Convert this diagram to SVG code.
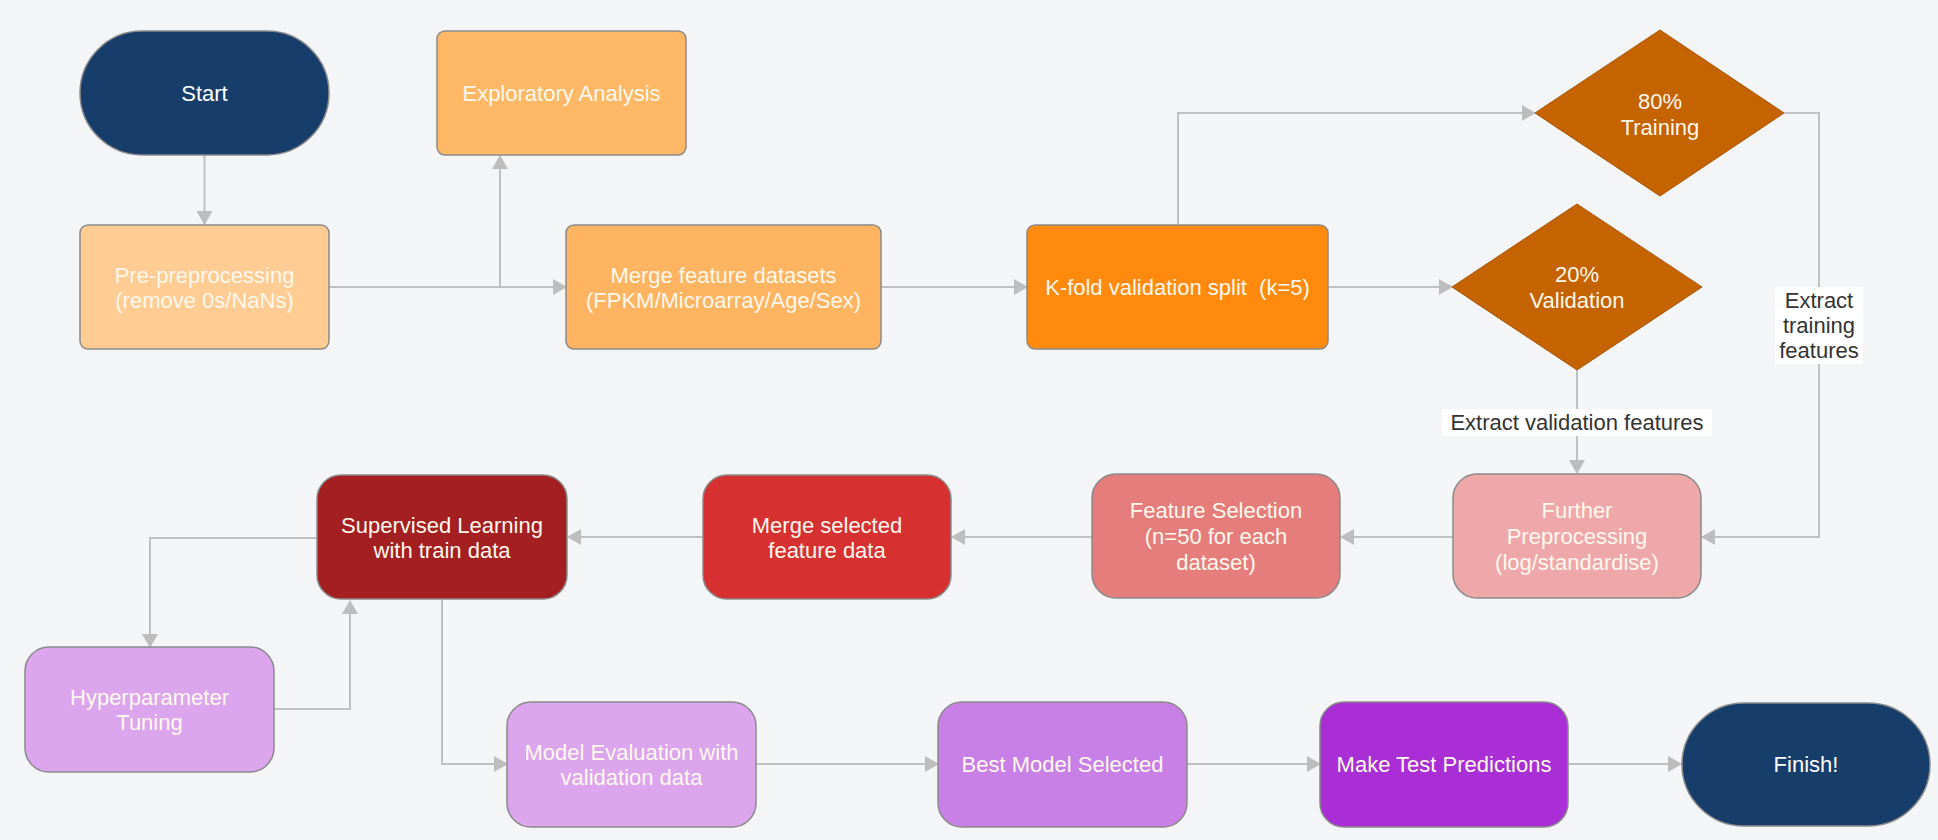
<svg xmlns="http://www.w3.org/2000/svg" width="1938" height="840" viewBox="0 0 1938 840">
<defs>
<marker id="arr" viewBox="0 0 14 16" refX="13" refY="8" markerWidth="14" markerHeight="16" markerUnits="userSpaceOnUse" orient="auto">
<path d="M0,0 L14,8 L0,16 Z" fill="#bdbdbd"/>
</marker>
<style>
.bg{fill:#f4f5f7}
.n{stroke:#8a8a8a;stroke-width:1.5}
.t{font-family:"Liberation Sans",Arial,sans-serif;font-size:22px;text-anchor:middle;fill:#fff8ec}
.tw{font-family:"Liberation Sans",Arial,sans-serif;font-size:22px;text-anchor:middle;fill:#ffffff}
.lbl{font-family:"Liberation Sans",Arial,sans-serif;font-size:22px;text-anchor:middle;fill:#333333}
.c{fill:none;stroke:#c0c0c0;stroke-width:2;marker-end:url(#arr)}
.cn{fill:none;stroke:#c0c0c0;stroke-width:2}
</style>
</defs>
<rect class="bg" x="0" y="0" width="1938" height="840"/>

<g id="connectors">
<path class="c" d="M204.5,155 L204.5,224"/>
<path class="c" d="M329,287 L566,287"/>
<path class="c" d="M500,287 L500,156"/>
<path class="c" d="M881,287 L1027,287"/>
<path class="c" d="M1328,287 L1452,287"/>
<path class="c" d="M1178,224 L1178,113 L1535,113"/>
<path class="c" d="M1784,113 L1819,113 L1819,537 L1702,537"/>
<path class="c" d="M1577,369 L1577,473"/>
<path class="c" d="M1453,537 L1341,537"/>
<path class="c" d="M1092,537 L952,537"/>
<path class="c" d="M703,537 L568,537"/>
<path class="c" d="M317,538 L150,538 L150,647"/>
<path class="c" d="M274,709 L350,709 L350,601"/>
<path class="c" d="M442,600 L442,764 L507,764"/>
<path class="c" d="M756,764 L938,764"/>
<path class="c" d="M1187,764 L1320,764"/>
<path class="c" d="M1568,764 L1681,764"/>
<g id="label-train">
<rect x="1775" y="287" width="88" height="77" fill="#ffffff"/>
<text class="lbl" x="1819" y="308">Extract</text>
<text class="lbl" x="1819" y="333">training</text>
<text class="lbl" x="1819" y="358">features</text>
</g>
<g id="label-val">
<rect x="1442" y="409" width="270" height="27" fill="#ffffff"/>
<text class="lbl" x="1577" y="430">Extract validation features</text>
</g>
</g>

<g id="start">
<rect class="n" x="80" y="31" width="249" height="124" rx="62" ry="62" fill="#173d6b"/>
<text class="tw" x="204.5" y="101">Start</text>
</g>
<g id="exploratory">
<rect class="n" x="437" y="31" width="249" height="124" rx="8" fill="#ffb866"/>
<text class="t" x="561.5" y="101">Exploratory Analysis</text>
</g>
<g id="pre">
<rect class="n" x="80" y="225" width="249" height="124" rx="8" fill="#ffcc93"/>
<text class="t" x="204.5" y="283">Pre-preprocessing</text>
<text class="t" x="204.5" y="308">(remove 0s/NaNs)</text>
</g>
<g id="merge-feature">
<rect class="n" x="566" y="225" width="315" height="124" rx="8" fill="#ffb462"/>
<text class="t" x="723.5" y="283">Merge feature datasets</text>
<text class="t" x="723.5" y="308">(FPKM/Microarray/Age/Sex)</text>
</g>
<g id="kfold">
<rect class="n" x="1027" y="225" width="301" height="124" rx="8" fill="#ff8a0d"/>
<text class="t" x="1177.5" y="295" xml:space="preserve">K-fold validation split  (k=5)</text>
</g>
<g id="train80">
<polygon points="1660,30 1784,113 1660,196 1535,113" fill="#c46300" stroke="#a85500" stroke-width="1"/>
<text class="t" x="1660" y="109">80%</text>
<text class="t" x="1660" y="135">Training</text>
</g>
<g id="val20">
<polygon points="1577,204 1702,287 1577,370 1452,287" fill="#c46300" stroke="#a85500" stroke-width="1"/>
<text class="t" x="1577" y="282">20%</text>
<text class="t" x="1577" y="308">Validation</text>
</g>
<g id="further">
<rect class="n" x="1453" y="474" width="248" height="124" rx="24" fill="#eea8aa"/>
<text class="t" x="1577" y="518">Further</text>
<text class="t" x="1577" y="544">Preprocessing</text>
<text class="t" x="1577" y="570">(log/standardise)</text>
</g>
<g id="featsel">
<rect class="n" x="1092" y="474" width="248" height="124" rx="24" fill="#e57d7d"/>
<text class="t" x="1216" y="518">Feature Selection</text>
<text class="t" x="1216" y="544">(n=50 for each</text>
<text class="t" x="1216" y="570">dataset)</text>
</g>
<g id="merge-selected">
<rect class="n" x="703" y="475" width="248" height="124" rx="24" fill="#d63031"/>
<text class="t" x="827" y="533">Merge selected</text>
<text class="t" x="827" y="558">feature data</text>
</g>
<g id="supervised">
<rect class="n" x="317" y="475" width="250" height="124" rx="24" fill="#a31f22"/>
<text class="t" x="442" y="533">Supervised Learning</text>
<text class="t" x="442" y="558">with train data</text>
</g>
<g id="hyper">
<rect class="n" x="25" y="647" width="249" height="125" rx="24" fill="#dba6ee"/>
<text class="t" x="149.5" y="705">Hyperparameter</text>
<text class="t" x="149.5" y="730">Tuning</text>
</g>
<g id="model-eval">
<rect class="n" x="507" y="702" width="249" height="125" rx="24" fill="#dba6ee"/>
<text class="t" x="631.5" y="760">Model Evaluation with</text>
<text class="t" x="631.5" y="785">validation data</text>
</g>
<g id="best">
<rect class="n" x="938" y="702" width="249" height="125" rx="24" fill="#c980e6"/>
<text class="t" x="1062.5" y="772">Best Model Selected</text>
</g>
<g id="make-test">
<rect class="n" x="1320" y="702" width="248" height="125" rx="24" fill="#a92ed6"/>
<text class="t" x="1444" y="772">Make Test Predictions</text>
</g>
<g id="finish">
<rect class="n" x="1682" y="703" width="248" height="123" rx="62" ry="62" fill="#173d6b"/>
<text class="tw" x="1806" y="772">Finish!</text>
</g>
</svg>
